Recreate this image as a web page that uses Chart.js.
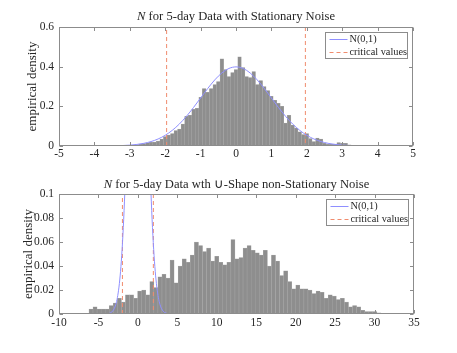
<!DOCTYPE html>
<html><head><meta charset="utf-8">
<script src="https://cdn.jsdelivr.net/npm/chart.js@4.4.1/dist/chart.umd.min.js"></script>
<style>
html,body{margin:0;padding:0;background:#fff;}
#w{position:relative;width:457px;height:353px;overflow:hidden;}
canvas{position:absolute;left:0;}
</style></head><body>
<div id="w">
<canvas id="c1" width="457" height="176" style="top:0px"></canvas>
<canvas id="c2" width="457" height="177" style="top:176px"></canvas>
</div>
<script>
// ---------- data ----------
const topCounts = [0.003,0.004,0.006,0.010,0.012,0.016,0.018,0.020,0.025,0.035,
  0.048,0.055,0.062,0.078,0.085,0.110,0.150,0.155,0.185,0.190,
  0.245,0.290,0.270,0.290,0.310,0.325,0.440,0.385,0.350,0.370,
  0.385,0.450,0.395,0.350,0.345,0.375,0.310,0.330,0.300,0.280,
  0.250,0.230,0.215,0.200,0.115,0.155,0.105,0.090,0.072,0.058,
  0.063,0.038,0.022,0.040,0.035,0.013,0.009,0.008,0.010,0.017,
  0.014,0.013,0.006];
const topBinStart = -3.05, topBinWidth = 0.1;

const botCounts = [0.004,0.006,0.004,0.004,0.004,0.007,0.009,0.013,0.010,0.016,
  0.016,0.013,0.019,0.020,0.016,0.027,0.022,0.031,0.033,0.030,
  0.045,0.026,0.040,0.046,0.043,0.049,0.060,0.057,0.052,0.055,
  0.044,0.048,0.043,0.041,0.043,0.062,0.046,0.047,0.055,0.057,
  0.053,0.051,0.049,0.053,0.040,0.049,0.044,0.032,0.036,0.027,
  0.021,0.024,0.021,0.021,0.020,0.017,0.019,0.018,0.013,0.016,
  0.015,0.012,0.013,0.010,0.006,0.007,0.006,0.003,0.002,0.002,
  0.002,0.001];
const botBinStart = -6.2, botBinWidth = 0.514;

// N(0,1) density read at x = -4, -3.8, ..., 4
const pdfStart = -4, pdfStep = 0.2;
const pdfValues = [0.0001,0.0003,0.0006,0.0012,0.0024,0.0044,0.0079,0.0136,0.0224,0.0355,
  0.0540,0.0790,0.1109,0.1497,0.1942,0.2420,0.2897,0.3332,0.3683,0.3910,
  0.3989,
  0.3910,0.3683,0.3332,0.2897,0.2420,0.1942,0.1497,0.1109,0.0790,0.0540,
  0.0355,0.0224,0.0136,0.0079,0.0044,0.0024,0.0012,0.0006,0.0003,0.0001];
const critValues = [-1.96, 1.96];

const topXTicks = [-5,-4,-3,-2,-1,0,1,2,3,4,5];
const topYTicks = [0,0.2,0.4,0.6];
const botXTicks = [-10,-5,0,5,10,15,20,25,30,35];
const botYTicks = [0,0.02,0.04,0.06,0.08,0.1];
const legendLabels = ['N(0,1)','critical values'];
const yAxisLabel = 'empirical density';
const topTitle = ['N', ' for 5-day Data with Stationary Noise'];
const botTitle = ['N', ' for 5-day Data wth \u222A-Shape non-Stationary Noise'];

// ---------- drawing ----------
const SERIF = "'Liberation Serif','Times New Roman',serif";
const TXT = '#262626';
const FRAME = '#8c8c8c';

const decor = {
  id: 'decor',
  afterDraw(chart) {
    const o = chart.options.plugins.decor;
    const {ctx, chartArea: a} = chart;
    const xs = chart.scales.x, ys = chart.scales.y;
    ctx.save();
    // frame
    ctx.strokeStyle = FRAME; ctx.lineWidth = 1;
    const L = Math.round(a.left) + 0.5, R = Math.round(a.right) - 0.5;
    const T = Math.round(a.top) + 0.5, B = Math.round(a.bottom) - 0.5;
    ctx.strokeRect(L, T, R - L, B - T);
    ctx.beginPath();
    const tl = 3.5;
    xs.ticks.forEach(t => {
      const p = Math.round(xs.getPixelForValue(t.value)) + 0.5;
      ctx.moveTo(p, B); ctx.lineTo(p, B - tl);
      ctx.moveTo(p, T); ctx.lineTo(p, T + tl);
    });
    ys.ticks.forEach(t => {
      const p = Math.round(ys.getPixelForValue(t.value)) + 0.5;
      ctx.moveTo(L, p); ctx.lineTo(L + tl, p);
      ctx.moveTo(R, p); ctx.lineTo(R - tl, p);
    });
    ctx.stroke();
    // title
    ctx.fillStyle = TXT;
    ctx.textBaseline = 'middle';
    const fi = 'italic 12.6px ' + SERIF, fn = '12.6px ' + SERIF;
    ctx.font = fi; const w1 = ctx.measureText(o.title[0]).width;
    ctx.font = fn; const w2 = ctx.measureText(o.title[1]).width;
    let tx = (a.left + a.right) / 2 - (w1 + w2) / 2;
    ctx.textAlign = 'left';
    ctx.font = fi; ctx.fillText(o.title[0], tx, o.titleY);
    ctx.font = fn; ctx.fillText(o.title[1], tx + w1, o.titleY);
    // y label
    ctx.save();
    ctx.translate(o.yLabelX, (a.top + a.bottom) / 2);
    ctx.rotate(-Math.PI / 2);
    ctx.textAlign = 'center'; ctx.textBaseline = 'middle';
    ctx.font = '13px ' + SERIF;
    ctx.fillText(yAxisLabel, 0, 0);
    ctx.restore();
    // legend
    const bw = 82, bh = 26;
    const bx = Math.round(a.right) - 6 - bw + 0.5, by = Math.round(a.top) + 5 + 0.5;
    ctx.fillStyle = '#fff';
    ctx.fillRect(bx, by, bw, bh);
    ctx.strokeStyle = FRAME; ctx.lineWidth = 1;
    ctx.strokeRect(bx, by, bw, bh);
    ctx.font = '10.3px ' + SERIF; ctx.textAlign = 'left'; ctx.textBaseline = 'middle';
    const ds = chart.data.datasets;
    [0, 1].forEach(i => {
      const yy = by + 6.5 + i * 13;
      ctx.save();
      ctx.strokeStyle = ds[i].borderColor; ctx.lineWidth = 1;
      ctx.setLineDash(ds[i].borderDash || []);
      ctx.beginPath(); ctx.moveTo(bx + 4, Math.round(yy) + 0.5); ctx.lineTo(bx + 22, Math.round(yy) + 0.5); ctx.stroke();
      ctx.restore();
      ctx.fillStyle = TXT;
      ctx.fillText(ds[i].label, bx + 24, yy + 0.5);
    });
    ctx.restore();
  }
};

function makeChart(id, o) {
  const bars = o.counts.map((v, i) => ({x: o.binStart + o.binWidth * (i + 0.5), y: v}));
  const pdf = pdfValues.map((v, i) => ({x: pdfStart + pdfStep * i, y: v}));
  if (o.pdfTail !== undefined) pdf.push({x: o.pdfTail, y: 0});
  const crit = [
    {x: critValues[0], y: 0}, {x: critValues[0], y: o.yMax},
    {x: 0, y: null},
    {x: critValues[1], y: o.yMax}, {x: critValues[1], y: 0}];
  return new Chart(document.getElementById(id), {
    type: 'bar',
    data: {datasets: [
      {type: 'line', label: legendLabels[0], data: pdf, borderColor: '#8f8fff', borderWidth: 1,
       pointRadius: 0, cubicInterpolationMode: 'monotone', order: 1},
      {type: 'line', label: legendLabels[1], data: crit, borderColor: 'rgb(240,140,110)', borderWidth: 1,
       borderDash: [4, 3], pointRadius: 0, spanGaps: false, order: 2},
      {type: 'bar', label: 'histogram', data: bars, backgroundColor: '#8e8e8e', borderColor: '#a8a8a8',
       borderWidth: 0.5, barPercentage: 1, categoryPercentage: 1, order: 3}
    ]},
    options: {
      responsive: false, animation: false, events: [],
      layout: {padding: {left: 0, right: o.padRight, top: o.padTop, bottom: 0}},
      plugins: {legend: {display: false}, title: {display: false}, tooltip: {enabled: false},
        decor: {title: o.title, titleY: o.titleY, yLabelX: o.yLabelX}},
      scales: {
        x: {type: 'linear', min: o.xTicks[0], max: o.xTicks[o.xTicks.length - 1], offset: false,
            grid: {display: false, drawTicks: false}, border: {display: false},
            afterBuildTicks: s => { s.ticks = o.xTicks.map(v => ({value: v})); },
            ticks: {color: TXT, font: {family: SERIF, size: 11.5}, padding: o.xPad, maxRotation: 0, autoSkip: false,
                    callback: v => String(v)},
            afterFit: s => { s.height = o.xAxisH; }},
        y: {type: 'linear', min: 0, max: o.yMax,
            grid: {display: false, drawTicks: false}, border: {display: false},
            afterBuildTicks: s => { s.ticks = o.yTicks.map(v => ({value: v})); },
            ticks: {color: TXT, font: {family: SERIF, size: 11.5}, padding: 5, autoSkip: false,
                    callback: v => String(v)},
            afterFit: s => { s.width = 59; }}
      }
    },
    plugins: [decor]
  });
}

makeChart('c1', {counts: topCounts, binStart: topBinStart, binWidth: topBinWidth, yMax: 0.6,
  xTicks: topXTicks, yTicks: topYTicks, padTop: 27, padRight: 44, xAxisH: 30, xPad: 1.5,
  title: topTitle, titleY: 17, yLabelX: 33});
makeChart('c2', {counts: botCounts, binStart: botBinStart, binWidth: botBinWidth, yMax: 0.1,
  xTicks: botXTicks, yTicks: botYTicks, padTop: 18, padRight: 43, xAxisH: 39, xPad: 2.5,
  pdfTail: 32, title: botTitle, titleY: 9, yLabelX: 29});
</script>
</body></html>
